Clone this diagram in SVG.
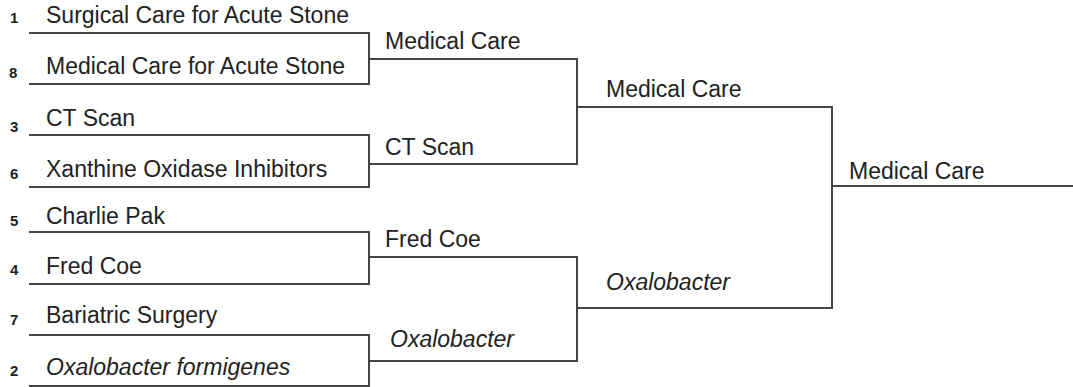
<svg xmlns="http://www.w3.org/2000/svg" width="1073" height="387" viewBox="0 0 1073 387">
<style>
  .lbl { font-family: "Liberation Sans", Arial, sans-serif; font-size: 23px; fill: #222222; }
  .it { font-style: italic; }
  .seed { font-family: "Liberation Sans", Arial, sans-serif; font-size: 15px; font-weight: bold; fill: #1e1e1e; }
  .ln { fill: none; stroke: #454545; stroke-width: 2; stroke-linejoin: miter; stroke-linecap: square; }
</style>
<rect width="1073" height="387" fill="#ffffff"/>
<g id="connectors">
  <path class="ln" d="M30,33 H369 V84 H30"/>
  <path class="ln" d="M30,135 H369 V187 H30"/>
  <path class="ln" d="M30,232 H369 V284 H30"/>
  <path class="ln" d="M30,335 H369 V386 H30"/>
  <path class="ln" d="M369,59 H577 V164 H369"/>
  <path class="ln" d="M369,257 H577 V361 H369"/>
  <path class="ln" d="M577,107 H832 V308 H577"/>
  <path class="ln" d="M832,186 H1073"/>
</g>
<g id="slot-1"><text class="seed" x="10" y="23">1</text><text class="lbl" x="46" y="23">Surgical Care for Acute Stone</text></g>
<g id="slot-8"><text class="seed" x="9" y="78">8</text><text class="lbl" x="46" y="73.5">Medical Care for Acute Stone</text></g>
<g id="slot-3"><text class="seed" x="10" y="131.5">3</text><text class="lbl" x="46" y="126">CT Scan</text></g>
<g id="slot-6"><text class="seed" x="10" y="178.5">6</text><text class="lbl" x="46" y="176.5">Xanthine Oxidase Inhibitors</text></g>
<g id="slot-5"><text class="seed" x="10" y="226">5</text><text class="lbl" x="46" y="224">Charlie Pak</text></g>
<g id="slot-4"><text class="seed" x="10" y="274.5">4</text><text class="lbl" x="46" y="273.5">Fred Coe</text></g>
<g id="slot-7"><text class="seed" x="10" y="325">7</text><text class="lbl" x="46" y="322.5">Bariatric Surgery</text></g>
<g id="slot-2"><text class="seed" x="10" y="376">2</text><text class="lbl it" x="46" y="374.5">Oxalobacter formigenes</text></g>
<g id="r2-1"><text class="lbl" x="385" y="48.5">Medical Care</text></g>
<g id="r2-2"><text class="lbl" x="385" y="155">CT Scan</text></g>
<g id="r2-3"><text class="lbl" x="385" y="246.5">Fred Coe</text></g>
<g id="r2-4"><text class="lbl it" x="390" y="346.5">Oxalobacter</text></g>
<g id="r3-1"><text class="lbl" x="606" y="96.5">Medical Care</text></g>
<g id="r3-2"><text class="lbl it" x="606" y="290">Oxalobacter</text></g>
<g id="final"><text class="lbl" x="849" y="178.5">Medical Care</text></g>
</svg>
